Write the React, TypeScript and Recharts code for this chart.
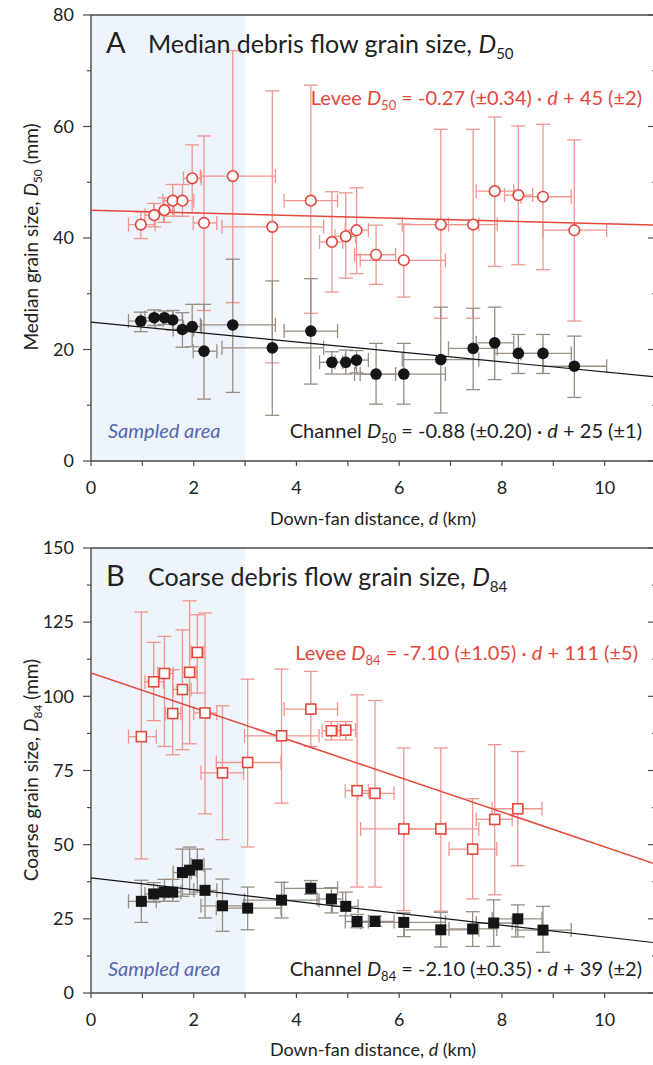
import { ScatterChart, Scatter, XAxis, YAxis, ErrorBar, ReferenceArea } from 'recharts'

const RED = '#e4473c'
const RED_ERR = '#f0968f'
const BLK = '#151515'
const BLK_ERR = '#978d82'
const AXIS = '#4a4a4a'
const INK = '#222'
const FONT = 'Lato, "Open Sans", sans-serif'

// rows: [d (km), value (mm), value low, value high, d low, d high]
const leveeD50 = [
  [0.97, 42.4, 39.9, 44.7, 0.73, 1.25],
  [1.23, 44.1, 42.0, 46.2, 1.05, 1.41],
  [1.43, 45.0, 42.8, 47.2, 1.22, 1.62],
  [1.59, 46.7, 43.9, 49.6, 1.40, 1.78],
  [1.78, 46.7, 43.9, 49.6, 1.60, 2.0],
  [1.97, 50.7, 44.5, 56.7, 1.80, 2.15],
  [2.2, 42.7, 27.0, 58.3, 1.99, 2.45],
  [2.76, 51.1, 28.4, 73.6, 2.13, 3.59],
  [3.53, 42.0, 17.6, 66.4, 2.55, 4.53],
  [4.28, 46.7, 26.5, 67.4, 3.76, 4.8],
  [4.69, 39.3, 30.3, 48.3, 4.45, 4.9],
  [4.96, 40.3, 32.8, 48.1, 4.75, 5.15],
  [5.17, 41.4, 33.6, 49.0, 4.95, 5.4],
  [5.55, 37.0, 31.7, 42.3, 5.13, 5.93],
  [6.09, 36.0, 29.4, 42.5, 5.24, 6.9],
  [6.81, 42.4, 25.6, 59.5, 6.06, 7.55],
  [7.44, 42.4, 25.6, 59.5, 6.96, 7.91],
  [7.86, 48.4, 34.9, 61.7, 7.5, 8.23],
  [8.32, 47.7, 35.2, 60.1, 8.05, 8.6],
  [8.8, 47.4, 34.3, 60.4, 8.37, 9.35],
  [9.41, 41.4, 25.1, 57.6, 8.8, 10.04],
]

const channelD50 = [
  [0.97, 25.1, 23.2, 26.7, 0.73, 1.25],
  [1.23, 25.7, 24.3, 27.1, 1.05, 1.41],
  [1.43, 25.7, 24.5, 26.9, 1.25, 1.6],
  [1.59, 25.3, 23.5, 27.0, 1.4, 1.78],
  [1.78, 23.6, 20.4, 26.6, 1.6, 2.0],
  [1.97, 24.1, 20.5, 28.1, 1.8, 2.15],
  [2.2, 19.7, 11.1, 28.1, 1.99, 2.45],
  [2.76, 24.4, 12.3, 36.2, 2.13, 3.59],
  [3.53, 20.3, 8.2, 32.3, 2.55, 4.53],
  [4.28, 23.3, 13.8, 32.7, 3.76, 4.8],
  [4.69, 17.7, 15.6, 19.6, 4.45, 4.9],
  [4.96, 17.7, 15.6, 19.9, 4.75, 5.15],
  [5.17, 18.1, 15.8, 19.8, 4.95, 5.4],
  [5.55, 15.6, 10.2, 21.1, 5.13, 5.93],
  [6.09, 15.6, 10.2, 21.1, 5.24, 6.9],
  [6.81, 18.2, 8.6, 27.6, 6.06, 7.55],
  [7.44, 20.2, 12.8, 27.4, 6.96, 7.91],
  [7.86, 21.2, 14.6, 27.6, 7.5, 8.23],
  [8.32, 19.3, 15.7, 22.7, 7.85, 8.8],
  [8.8, 19.3, 15.7, 22.7, 8.37, 9.35],
  [9.41, 17.0, 11.4, 22.4, 8.8, 10.04],
]

const leveeD84 = [
  [0.98, 86.4, 45.2, 128.4, 0.73, 1.27],
  [1.22, 104.9, 91.8, 118.2, 1.05, 1.41],
  [1.43, 107.7, 83.1, 120.2, 1.3, 1.6],
  [1.59, 94.2, 80.3, 109.0, 1.45, 1.75],
  [1.78, 102.3, 82.0, 122.4, 1.6, 1.95],
  [1.92, 108.1, 84.0, 132.2, 1.78, 2.05],
  [2.07, 114.8, 101.1, 127.5, 1.95, 2.2],
  [2.22, 94.4, 60.4, 128.1, 2.0, 2.45],
  [2.56, 74.2, 51.7, 96.8, 2.14, 2.97],
  [3.05, 77.7, 49.2, 105.8, 2.44, 3.7],
  [3.71, 86.7, 64.0, 109.2, 2.99, 4.44],
  [4.28, 95.7, 83.1, 108.4, 3.76, 4.8],
  [4.68, 88.4, 85.3, 91.5, 4.5, 4.85],
  [4.96, 88.6, 85.3, 91.5, 4.8, 5.15],
  [5.18, 68.2, 35.7, 100.5, 4.95, 5.4],
  [5.53, 67.3, 35.7, 98.6, 5.2, 5.9],
  [6.09, 55.3, 27.8, 82.6, 5.25, 6.9],
  [6.81, 55.3, 27.6, 82.6, 6.1, 7.55],
  [7.43, 48.5, 31.7, 65.5, 6.97, 7.9],
  [7.86, 58.5, 33.1, 83.7, 7.5, 8.2],
  [8.31, 62.1, 42.9, 81.4, 7.81, 8.78],
]

const channelD84 = [
  [0.98, 30.9, 23.8, 38.0, 0.73, 1.27],
  [1.22, 33.4, 30.6, 37.2, 1.05, 1.41],
  [1.43, 34.0, 30.9, 38.3, 1.3, 1.6],
  [1.59, 34.0, 30.9, 38.3, 1.45, 1.75],
  [1.78, 40.6, 32.6, 48.5, 1.6, 1.95],
  [1.92, 41.4, 33.3, 49.2, 1.78, 2.05],
  [2.07, 43.2, 34.0, 48.5, 1.95, 2.2],
  [2.22, 34.6, 25.3, 41.8, 2.0, 2.45],
  [2.56, 29.4, 20.8, 38.4, 2.14, 2.97],
  [3.05, 28.6, 21.3, 35.7, 2.44, 3.7],
  [3.71, 31.3, 25.3, 37.3, 2.99, 4.44],
  [4.28, 35.3, 33.3, 37.9, 3.76, 4.8],
  [4.68, 31.7, 27.0, 35.5, 4.4, 4.9],
  [4.96, 29.2, 26.0, 34.0, 4.7, 5.2],
  [5.18, 24.1, 22.0, 26.5, 4.95, 5.4],
  [5.53, 24.1, 22.5, 26.0, 5.2, 5.9],
  [6.09, 23.8, 19.0, 27.0, 5.25, 6.9],
  [6.81, 21.3, 15.5, 27.2, 6.1, 7.55],
  [7.43, 21.6, 15.7, 27.4, 6.97, 7.9],
  [7.84, 23.6, 15.7, 31.4, 7.5, 8.2],
  [8.31, 25.0, 18.9, 29.7, 7.81, 8.78],
  [8.8, 21.2, 13.7, 29.2, 8.27, 9.35],
]

// fitted lines, end points as drawn
const leveeFitD50 = [[0, 45.0], [11, 42.3]]
const channelFitD50 = [[0, 24.9], [11, 15.1]]
const leveeFitD84 = [[0, 107.9], [11, 43.4]]
const channelFitD84 = [[0, 38.8], [11, 16.9]]

const distTicks = [0, 1, 2, 3, 4, 5, 6, 7, 8, 9, 10, 11]
const d50Ticks = [0, 10, 20, 30, 40, 50, 60, 70, 80]
const d84Ticks = [0, 12.5, 25, 37.5, 50, 62.5, 75, 87.5, 100, 112.5, 125, 137.5, 150]
const sampledRange = [0, 3]

const toRows = (pts: number[][]) =>
  pts.map(([d, v, vLo, vHi, dLo, dHi]) => ({ d, v, ey: [v - vLo, vHi - v], ex: [d - dLo, dHi - d] }))
const toLine = (pts: number[][]) => pts.map(([d, v]) => ({ d, v }))

const BottomTick = ({ x, y, payload }: any) => (
  <g>
    <line x1={x} x2={x} y1={y} y2={y + 5} stroke={AXIS} strokeWidth={1.2} />
    {payload.value % 2 === 0 && (
      <text x={x} y={y + 27} dy="0.35em" textAnchor="middle" fontSize={18} fill={INK} fontFamily={FONT}>
        {payload.value}
      </text>
    )}
  </g>
)

const TopTick = ({ x, y }: any) => <line x1={x} x2={x} y1={y} y2={y + 5} stroke={AXIS} strokeWidth={1.2} />

const leftTick = (every: number) => ({ x, y, payload }: any) => {
  const major = payload.value % every === 0
  return (
    <g>
      <line x1={x - (major ? 8 : 4)} x2={x} y1={y} y2={y} stroke={AXIS} strokeWidth={1.2} />
      {major && (
        <text x={x - 17} y={y} dy="0.35em" textAnchor="end" fontSize={18} fill={INK} fontFamily={FONT}>
          {payload.value}
        </text>
      )}
    </g>
  )
}

const rightTick = (every: number) => ({ x, y, payload }: any) => {
  const major = payload.value % every === 0
  return <line x1={x - (major ? 8 : 4)} x2={x} y1={y} y2={y} stroke={AXIS} strokeWidth={1.2} />
}

const OpenCircle = ({ cx, cy }: any) => <circle cx={cx} cy={cy} r={5.3} fill="#fff" stroke={RED} strokeWidth={1.6} />
const DotCircle = ({ cx, cy }: any) => <circle cx={cx} cy={cy} r={5.8} fill={BLK} />
const OpenSquare = ({ cx, cy }: any) => (
  <rect x={cx - 5} y={cy - 5} width={10} height={10} fill="#fff" stroke={RED} strokeWidth={1.6} />
)
const DotSquare = ({ cx, cy }: any) => <rect x={cx - 5.5} y={cy - 5.5} width={11} height={11} fill={BLK} />
const NoShape = () => <g />

function Panel(props: any) {
  const { levee, channel, leveeFit, channelFit, yTicks, every, leveeShape, channelShape, top, height, mTop, mBottom } = props
  const yMax = yTicks[yTicks.length - 1]
  return (
    <div style={{ position: 'absolute', left: 0, top }}>
      <ScatterChart width={660} height={height} margin={{ top: mTop - 2, right: 2, bottom: mBottom - 30, left: 51 }}>
        <XAxis xAxisId="b" type="number" dataKey="d" domain={[0, 11]} ticks={distTicks} interval={0}
          allowDataOverflow height={30} tickSize={0} tickMargin={0} tickLine={false} tick={BottomTick}
          axisLine={{ stroke: AXIS, strokeWidth: 1.4 }} />
        <XAxis xAxisId="t" orientation="top" type="number" domain={[0, 11]} ticks={distTicks} interval={0}
          allowDataOverflow height={2} tickSize={0} tickMargin={0} tickLine={false} tick={TopTick}
          axisLine={{ stroke: AXIS, strokeWidth: 1.4 }} />
        <YAxis yAxisId="l" type="number" dataKey="v" domain={[0, yMax]} ticks={yTicks} interval={0}
          allowDataOverflow width={40} tickSize={0} tickMargin={0} tickLine={false} tick={leftTick(every)}
          axisLine={{ stroke: AXIS, strokeWidth: 1.4 }} />
        <YAxis yAxisId="r" orientation="right" type="number" domain={[0, yMax]} ticks={yTicks} interval={0}
          allowDataOverflow width={2} tickSize={0} tickMargin={0} tickLine={false} tick={rightTick(every)}
          axisLine={{ stroke: AXIS, strokeWidth: 1.4 }} />
        <ReferenceArea xAxisId="b" yAxisId="l" x1={sampledRange[0]} x2={sampledRange[1]} y1={0} y2={yMax}
          fill="#eef4fb" fillOpacity={1} stroke="none" />
        <Scatter xAxisId="b" yAxisId="l" data={toLine(leveeFit)} line={{ stroke: RED, strokeWidth: 1.5 }}
          shape={NoShape} isAnimationActive={false} />
        <Scatter xAxisId="b" yAxisId="l" data={toLine(channelFit)} line={{ stroke: BLK, strokeWidth: 1.2 }}
          shape={NoShape} isAnimationActive={false} />
        <Scatter xAxisId="b" yAxisId="l" data={toRows(levee)} shape={leveeShape} isAnimationActive={false}>
          <ErrorBar dataKey="ey" direction="y" width={7} stroke={RED_ERR} strokeWidth={1.3} />
          <ErrorBar dataKey="ex" direction="x" width={7} stroke={RED_ERR} strokeWidth={1.3} />
        </Scatter>
        <Scatter xAxisId="b" yAxisId="l" data={toRows(channel)} shape={channelShape} isAnimationActive={false}>
          <ErrorBar dataKey="ey" direction="y" width={7} stroke={BLK_ERR} strokeWidth={1.3} />
          <ErrorBar dataKey="ex" direction="x" width={7} stroke={BLK_ERR} strokeWidth={1.3} />
        </Scatter>
      </ScatterChart>
    </div>
  )
}

const Eq = ({ x, y, fill, name, sub, rest }: any) => (
  <text x={x} y={y} textAnchor="end" fontSize={20} fill={fill} fontFamily={FONT}>
    {name} <tspan fontStyle="italic">D</tspan>
    <tspan fontSize={13} dy={5}>{sub}</tspan>
    <tspan dy={-5}> = {rest[0]} · </tspan>
    <tspan fontStyle="italic">d</tspan>
    <tspan> + {rest[1]}</tspan>
  </text>
)

const Title = ({ y, letter, text, sub }: any) => (
  <g fontFamily={FONT} fill={INK}>
    <text x={106} y={y} fontSize={29}>{letter}</text>
    <text x={148} y={y} fontSize={25}>
      {text}, <tspan fontStyle="italic">D</tspan>
      <tspan fontSize={15} dy={6}>{sub}</tspan>
    </text>
  </g>
)

const YTitle = ({ cy, text, sub }: any) => (
  <text x={0} y={0} transform={`translate(38 ${cy}) rotate(-90)`} textAnchor="middle" fontSize={19}
    fill={INK} fontFamily={FONT}>
    {text}, <tspan fontStyle="italic">D</tspan>
    <tspan fontSize={12} dy={4}>{sub}</tspan>
    <tspan dy={-4}> (mm)</tspan>
  </text>
)

const XTitle = ({ y }: any) => (
  <text x={373} y={y} textAnchor="middle" fontSize={18} fill={INK} fontFamily={FONT}>
    Down-fan distance, <tspan fontStyle="italic">d</tspan> (km)
  </text>
)

const Sampled = ({ y }: any) => (
  <text x={108} y={y} fontSize={20} fontStyle="italic" fill="#5567ac" fontFamily={FONT}>Sampled area</text>
)

export default function App() {
  return (
    <div style={{ position: 'absolute', left: 0, top: 0, width: 653, height: 1065, overflow: 'hidden', background: '#fff' }}>
      <Panel levee={leveeD50} channel={channelD50} leveeFit={leveeFitD50} channelFit={channelFitD50}
        yTicks={d50Ticks} every={20} leveeShape={OpenCircle} channelShape={DotCircle}
        top={0} height={540} mTop={15} mBottom={79} />
      <Panel levee={leveeD84} channel={channelD84} leveeFit={leveeFitD84} channelFit={channelFitD84}
        yTicks={d84Ticks} every={25} leveeShape={OpenSquare} channelShape={DotSquare}
        top={530} height={535} mTop={18} mBottom={72} />
      <svg width={653} height={1065} style={{ position: 'absolute', left: 0, top: 0, pointerEvents: 'none' }}>
        <Title y={53} letter="A" text="Median debris flow grain size" sub="50" />
        <Eq x={642} y={105} fill={RED} name="Levee" sub="50" rest={['-0.27 (±0.34)', '45 (±2)']} />
        <Eq x={642} y={438} fill={INK} name="Channel" sub="50" rest={['-0.88 (±0.20)', '25 (±1)']} />
        <Sampled y={438} />
        <YTitle cy={237} text="Median grain size" sub="50" />
        <XTitle y={525} />

        <Title y={586} letter="B" text="Coarse debris flow grain size" sub="84" />
        <Eq x={638} y={660} fill={RED} name="Levee" sub="84" rest={['-7.10 (±1.05)', '111 (±5)']} />
        <Eq x={642} y={976} fill={INK} name="Channel" sub="84" rest={['-2.10 (±0.35)', '39 (±2)']} />
        <Sampled y={976} />
        <YTitle cy={770} text="Coarse grain size" sub="84" />
        <XTitle y={1056} />
      </svg>
    </div>
  )
}
